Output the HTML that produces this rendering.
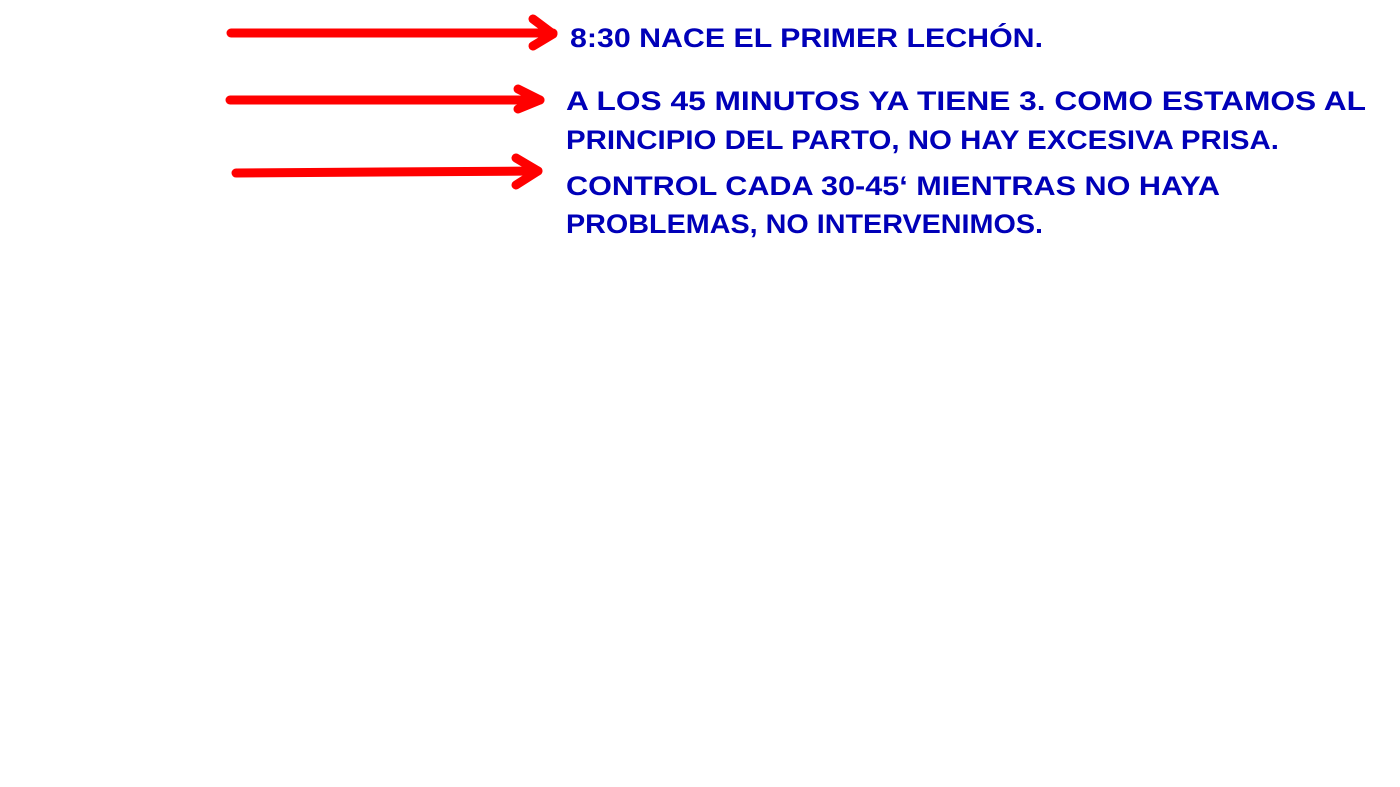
<!DOCTYPE html>
<html><head><meta charset="utf-8"><style>
html,body{margin:0;padding:0;background:#fff;width:1400px;height:787px;overflow:hidden}
text{font-family:"Liberation Sans",sans-serif;font-weight:bold;font-size:27px;fill:#0000b8}
</style></head><body>
<svg width="1400" height="787" viewBox="0 0 1400 787" xmlns="http://www.w3.org/2000/svg">
<g stroke="#ff0000" stroke-width="9" stroke-linecap="round" stroke-linejoin="round" fill="none">
<path d="M231 33 L553 33"/><path d="M533 19 L553 34 L533 46"/>
<path d="M230 100 L540 100"/><path d="M518 89 L540 100 L518 109"/>
<path d="M236 173 L538 171"/><path d="M516 158 L538 171 L516 185"/>
</g>
<text x="570" y="47" textLength="473" lengthAdjust="spacingAndGlyphs">8:30 NACE EL PRIMER LECHÓN.</text>
<text x="566" y="110" textLength="800" lengthAdjust="spacingAndGlyphs">A LOS 45 MINUTOS YA TIENE 3. COMO ESTAMOS AL</text>
<text x="566" y="149" textLength="713" lengthAdjust="spacingAndGlyphs">PRINCIPIO DEL PARTO, NO HAY EXCESIVA PRISA.</text>
<text x="566" y="195" textLength="654" lengthAdjust="spacingAndGlyphs">CONTROL CADA 30-45‘ MIENTRAS NO HAYA</text>
<text x="566" y="233" textLength="477" lengthAdjust="spacingAndGlyphs">PROBLEMAS, NO INTERVENIMOS.</text>
</svg>
</body></html>
